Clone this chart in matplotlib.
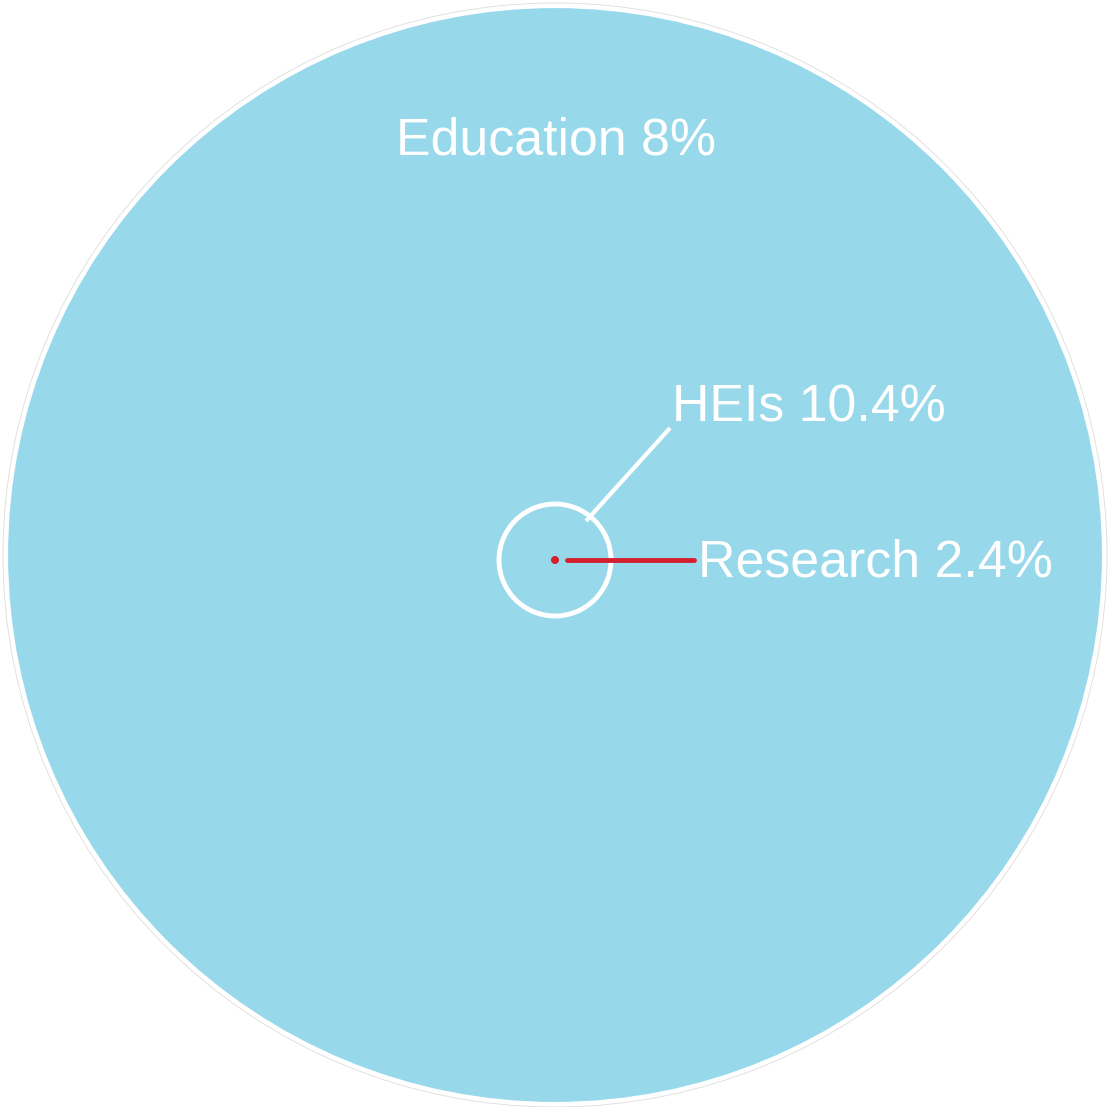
import matplotlib.pyplot as plt
from matplotlib.patches import Circle

plt.rcParams['font.family'] = ['Liberation Sans', 'DejaVu Sans']

# data
names = ['Education', 'HEIs', 'Research']
shares = [8, 10.4, 2.4]

blue = '#97d9eb'
red = '#d3202f'

fig = plt.figure(figsize=(11.1, 11.07), dpi=100)
ax = fig.add_axes([0, 0, 1, 1])
ax.set_xlim(0, 1110)
ax.set_ylim(1107, 0)
ax.set_aspect('equal')
ax.axis('off')

# big bubble
ax.add_patch(Circle((555, 555), 552, facecolor='none', edgecolor='#dcdcdc', lw=0.6))
ax.add_patch(Circle((555, 555), 549, facecolor=blue, edgecolor='white', lw=3))

# HEIs bubble
ax.add_patch(Circle((555, 560), 56, facecolor='none', edgecolor='white', lw=3.5))

# Research dot
ax.add_patch(Circle((555, 560), 4, facecolor=red, edgecolor='none'))

def lab(name, val):
    return f'{name} {val:g}%'

fs = 37.4
ax.text(556, 141, lab(names[0], shares[0]), color='white', fontsize=fs,
        ha='center', va='center')

ax.plot([586, 670], [521, 428], color='white', lw=3, solid_capstyle='butt')
ax.text(672, 408, lab(names[1], shares[1]), color='white', fontsize=fs,
        ha='left', va='center')

ax.plot([567, 694], [560, 560], color=red, lw=3.5, solid_capstyle='round')
ax.text(698, 563, lab(names[2], shares[2]), color='white', fontsize=fs,
        ha='left', va='center')

plt.savefig('out.png', dpi=100, facecolor='white')
